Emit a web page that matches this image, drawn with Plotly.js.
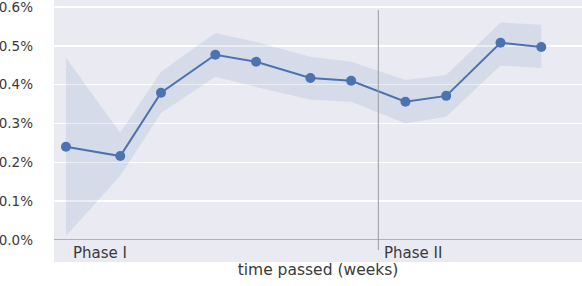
<!DOCTYPE html>
<html><head><meta charset="utf-8">
<script src="https://cdn.plot.ly/plotly-3.0.1.min.js"></script>
<style>html,body{margin:0;padding:0;background:#fff}#chart{width:582px;height:286px}</style>
</head><body><div id="chart"></div>
<script>
// time in days since start
const days = [0, 4, 7, 11, 14, 18, 21, 25, 28, 32, 35];
// mean value (%)
const meanPct = [0.240, 0.216, 0.379, 0.477, 0.459, 0.417, 0.410, 0.356, 0.371, 0.508, 0.497];
// confidence band (%)
const upperPct = [0.469, 0.276, 0.433, 0.533, 0.510, 0.472, 0.459, 0.412, 0.425, 0.560, 0.554];
const lowerPct = [0.010, 0.165, 0.327, 0.420, 0.394, 0.361, 0.356, 0.300, 0.317, 0.449, 0.443];
const phaseStart = [0, 23];
const phaseLabels = ['Phase I', 'Phase II'];
const yTicks = [0, 0.1, 0.2, 0.3, 0.4, 0.5, 0.6];

const blue = '#4C72B0';
const traces = [
  {x: days, y: upperPct, mode: 'lines', line: {width: 0, color: blue}, hoverinfo: 'skip', showlegend: false},
  {x: days, y: lowerPct, mode: 'lines', line: {width: 0, color: blue}, fill: 'tonexty', fillcolor: 'rgba(76,114,176,0.12)', hoverinfo: 'skip', showlegend: false},
  {x: days, y: meanPct, mode: 'lines+markers', line: {color: blue, width: 2}, marker: {color: blue, size: 10}, showlegend: false}
];

const layout = {
  width: 582, height: 286,
  margin: {l: 54, r: 0, t: 0, b: 24},
  paper_bgcolor: '#ffffff',
  plot_bgcolor: '#EAEAF2',
  font: {family: 'DejaVu Sans', color: '#3a3a3a', size: 11},
  xaxis: {
    range: [-0.88, 38.0], showticklabels: false, showgrid: false, zeroline: false, ticks: '',
    title: {text: 'time passed (weeks)', font: {size: 15.5, color: '#3a3a3a'}, standoff: 2}
  },
  yaxis: {
    range: [-0.057, 0.618], tickvals: yTicks, ticktext: yTicks.map(v => v.toFixed(1) + '%'),
    showgrid: true, gridcolor: '#ffffff', gridwidth: 1.5,
    zeroline: true, zerolinecolor: '#b0b0b0', zerolinewidth: 1,
    ticks: '', ticklabelstandoff: 20, ticklabeloverflow: 'allow',
    tickfont: {size: 13.5, color: '#3a3a3a'}
  },
  shapes: [
    {type: 'line', xref: 'x', yref: 'y', x0: phaseStart[1], x1: phaseStart[1], y0: -0.026, y1: 0.592,
     line: {color: '#999999', width: 1}}
  ],
  annotations: phaseLabels.map((t, i) => ({
    x: phaseStart[i], y: -0.035, xref: 'x', yref: 'y', text: t, showarrow: false,
    xanchor: 'left', yanchor: 'middle', xshift: i === 0 ? 5 : 4,
    font: {size: 15, color: '#3a3a3a'}
  }))
};

Plotly.newPlot('chart', traces, layout, {displayModeBar: false, staticPlot: true});
</script></body></html>
